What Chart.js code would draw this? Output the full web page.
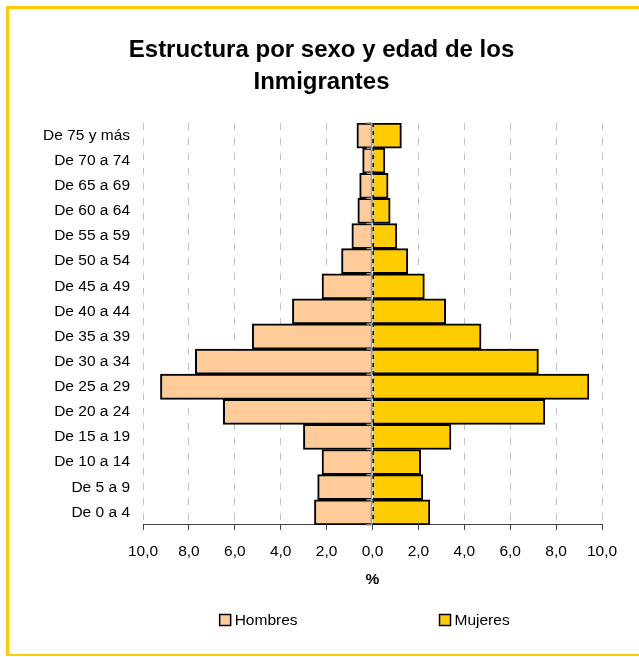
<!DOCTYPE html>
<html><head><meta charset="utf-8">
<script src="https://cdn.jsdelivr.net/npm/chart.js@4/dist/chart.umd.min.js"></script>
<style>
html,body{margin:0;padding:0;background:#fff;overflow:hidden;width:639px;height:657px;}
#frame{position:absolute;left:6px;top:6px;width:700px;height:645px;border-left:3px solid #FFCC00;border-top:3px solid #FFCC00;border-bottom:2px solid #FFCC00;}
#wrap{position:absolute;left:0;top:0;width:639px;height:657px;}
</style></head><body>
<div id="frame"></div>
<div id="wrap"><canvas id="c" width="639" height="657"></canvas></div>
<script>
const titleLines = ['Estructura por sexo y edad de los', 'Inmigrantes'];
const ageGroups = ['De 0 a 4','De 5 a 9','De 10 a 14','De 15 a 19','De 20 a 24','De 25 a 29','De 30 a 34','De 35 a 39','De 40 a 44','De 45 a 49','De 50 a 54','De 55 a 59','De 60 a 64','De 65 a 69','De 70 a 74','De 75 y más'];
const hombres = [2.53, 2.39, 2.2, 3.01, 6.5, 9.24, 7.72, 5.24, 3.49, 2.2, 1.35, 0.9, 0.64, 0.56, 0.43, 0.68];
const mujeres = [2.5, 2.19, 2.1, 3.42, 7.51, 9.43, 7.23, 4.73, 3.19, 2.26, 1.54, 1.06, 0.77, 0.68, 0.54, 1.26];
const seriesNames = ['Hombres', 'Mujeres'];
const axisTitle = '%';
const xMin = -10, xMax = 10, xStep = 2;

const FONT = '"Liberation Sans", Arial, sans-serif';
Chart.defaults.font.family = FONT;
Chart.defaults.color = '#000';

const legendPlugin = {
  id: 'pyrLegend',
  afterDraw(chart) {
    const {ctx, chartArea: a, scales: {x}} = chart;
    const yc = x.bottom + 28;
    const fracs = [0.167, 0.646];
    ctx.save();
    ctx.font = '15.5px ' + FONT;
    ctx.textBaseline = 'middle';
    ctx.textAlign = 'left';
    chart.data.datasets.forEach((ds, i) => {
      const bx = a.left + (a.right - a.left) * fracs[i];
      ctx.fillStyle = ds.backgroundColor;
      ctx.fillRect(bx, yc - 5.5, 11, 11);
      ctx.lineWidth = 1.5; ctx.strokeStyle = '#000';
      ctx.strokeRect(bx, yc - 5.5, 11, 11);
      ctx.fillStyle = '#000';
      ctx.fillText(ds.label, bx + 15, yc + 1);
    });
    ctx.restore();
  }
};

const zeroAxis = {
  id: 'zeroAxis',
  afterDatasetsDraw(chart) {
    const {ctx, chartArea: a, scales: {x}} = chart;
    const x0 = x.getPixelForValue(0);
    const n = chart.data.labels.length;
    ctx.save();
    ctx.strokeStyle = '#9a9a9a'; ctx.lineWidth = 1.5;
    ctx.beginPath(); ctx.moveTo(x0 - 1, a.top); ctx.lineTo(x0 - 1, a.bottom); ctx.stroke();
    for (let i = 0; i <= n; i++) {
      const yy = a.top + (a.bottom - a.top) * i / n;
      ctx.beginPath(); ctx.moveTo(x0 - 6, yy); ctx.lineTo(x0 - 1, yy); ctx.stroke();
    }
    ctx.strokeStyle = '#000'; ctx.setLineDash([4, 4]); ctx.lineWidth = 1.5;
    ctx.beginPath(); ctx.moveTo(x0 + 0.75, a.top); ctx.lineTo(x0 + 0.75, a.bottom); ctx.stroke();
    ctx.restore();
  }
};

new Chart(document.getElementById('c'), {
  type: 'bar',
  data: {
    labels: ageGroups,
    datasets: [
      {label: seriesNames[0], data: hombres.map(v => -v), backgroundColor: '#FFCC99', borderColor: '#000', borderWidth: 2, categoryPercentage: 1, barPercentage: 1},
      {label: seriesNames[1], data: mujeres, backgroundColor: '#FFCC00', borderColor: '#000', borderWidth: 2, categoryPercentage: 1, barPercentage: 1}
    ]
  },
  options: {
    responsive: false,
    animation: false,
    indexAxis: 'y',
    layout: {padding: {left: 41, right: 37, top: 0, bottom: 65}},
    plugins: {
      legend: {display: false},
      tooltip: {enabled: false},
      title: {display: true, text: titleLines, color: '#000',
        font: {family: FONT, size: 24, weight: 'bold', lineHeight: 32/24},
        padding: {top: 34, bottom: 25}}
    },
    scales: {
      x: {
        stacked: true, min: xMin, max: xMax,
        ticks: {stepSize: xStep, autoSkip: false, maxRotation: 0, color: '#000', font: {size: 15.5}, padding: 13,
          callback: v => Math.abs(v).toFixed(1).replace('.', ',')},
        grid: {color: '#c0c0c0', lineWidth: 1, drawTicks: true, tickLength: 5, tickColor: '#404040', tickWidth: 1},
        border: {display: true, color: '#404040', width: 1, dash: [7, 8]},
        title: {display: true, text: axisTitle, color: '#000', font: {size: 15.5, weight: 'bold', lineHeight: 1}, padding: {top: -3, bottom: 5}}
      },
      y: {
        stacked: true, reverse: true,
        grid: {display: false, drawTicks: false, tickLength: 0},
        border: {display: false},
        ticks: {autoSkip: false, color: '#000', font: {size: 15.5}, padding: 13},
        afterFit: s => { s.width = s.width - 11; }
      }
    }
  },
  plugins: [zeroAxis, legendPlugin]
});
</script>
</body></html>
